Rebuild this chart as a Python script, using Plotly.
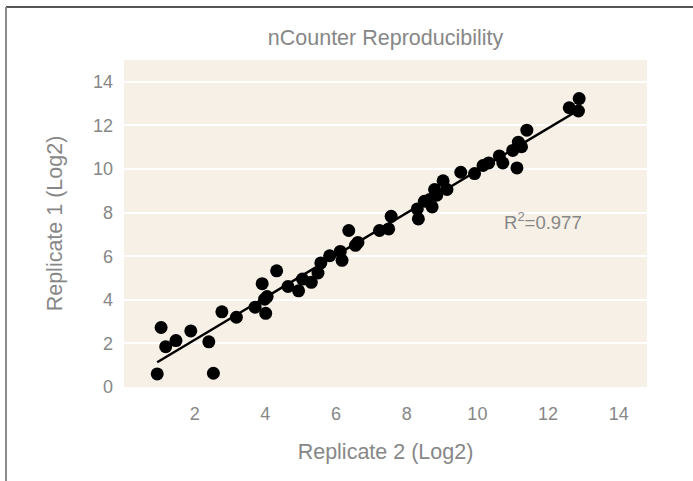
import numpy as np
import plotly.graph_objects as go

# Data
rep2 = [0.94, 1.05, 1.18, 1.47, 1.89, 2.40, 2.53, 2.77, 3.18, 3.71,
        4.01, 3.98, 4.05, 3.91, 4.32, 4.64, 4.94, 5.05, 5.30, 5.49,
        5.57, 5.82, 6.12, 6.17, 6.36, 6.55, 6.62, 7.23, 7.49, 7.56,
        8.33, 8.30, 8.50, 8.65, 8.72, 8.79, 8.85, 9.03, 9.14, 9.53,
        9.92, 10.16, 10.32, 10.62, 10.72, 11.12, 11.00, 11.16, 11.25, 11.40,
        12.60, 12.88, 12.86]
rep1 = [0.60, 2.73, 1.85, 2.13, 2.57, 2.07, 0.63, 3.45, 3.20, 3.66,
        3.38, 4.03, 4.15, 4.74, 5.33, 4.61, 4.41, 4.95, 4.80, 5.23,
        5.69, 6.02, 6.22, 5.81, 7.18, 6.50, 6.63, 7.18, 7.25, 7.83,
        7.71, 8.17, 8.52, 8.60, 8.26, 9.06, 8.80, 9.46, 9.06, 9.85,
        9.79, 10.16, 10.28, 10.60, 10.28, 10.05, 10.85, 11.23, 11.02, 11.78,
        12.81, 13.23, 12.66]
x_ticks = [2, 4, 6, 8, 10, 12, 14]
y_ticks = [0, 2, 4, 6, 8, 10, 12, 14]
r2_text = "R<sup>2</sup>=0.977"

title_text = "nCounter Reproducibility"
x_title = "Replicate 2 (Log2)"
y_title = "Replicate 1 (Log2)"

slope, intercept = np.polyfit(rep2, rep1, 1)
fit_x = [min(rep2), max(rep2)]
fit_y = [slope * v + intercept for v in fit_x]

FONT = "Liberation Sans, Arial, sans-serif"
GRAY = "#878787"

fig = go.Figure()
fig.add_trace(go.Scatter(x=rep2, y=rep1, mode="markers",
                         marker=dict(color="black", size=13),
                         showlegend=False, hoverinfo="skip"))
fig.add_trace(go.Scatter(x=fit_x, y=fit_y, mode="lines",
                         line=dict(color="black", width=2.5),
                         showlegend=False, hoverinfo="skip"))

fig.add_annotation(x=11.86, y=7.63, xref="x", yref="y", text=r2_text,
                   showarrow=False, font=dict(family=FONT, size=18.5, color=GRAY))

# outer frame (top and left edges); plot area is 523 x 327 px at (124, 60)
frame_left = (6 - 124) / 523
frame_top = (387 - 7) / 327
fig.add_shape(type="line", xref="paper", yref="paper",
              x0=frame_left, x1=1.2, y0=frame_top, y1=frame_top,
              line=dict(color="#555555", width=2))
fig.add_shape(type="line", xref="paper", yref="paper",
              x0=frame_left, x1=frame_left, y0=frame_top, y1=-0.4,
              line=dict(color="#8a8a8a", width=2))

fig.update_layout(
    width=693, height=481,
    margin=dict(l=124, r=46, t=60, b=94),
    paper_bgcolor="white",
    plot_bgcolor="#f7f0e6",
    title=dict(text=title_text, x=0.5, xref="paper", xanchor="center",
               y=1 - 37 / 481, yref="container", yanchor="middle",
               font=dict(family=FONT, size=21.5, color=GRAY)),
    xaxis=dict(range=[0, 14.8], tickvals=x_ticks, showgrid=False, zeroline=False,
               showline=False, ticks="", ticklabelstandoff=14,
               tickfont=dict(family=FONT, size=18, color=GRAY),
               title=dict(text=x_title, standoff=20,
                          font=dict(family=FONT, size=21.5, color=GRAY))),
    yaxis=dict(range=[0, 15], tickvals=y_ticks, showgrid=True, gridcolor="white",
               gridwidth=1.5, zeroline=False, showline=False, ticks="",
               ticklabelstandoff=10,
               tickfont=dict(family=FONT, size=18, color=GRAY),
               title=dict(text=y_title, standoff=24,
                          font=dict(family=FONT, size=21.5, color=GRAY))),
)

fig.write_html("out.html", config={"displayModeBar": False},
               post_script="document.body.style.margin='0px';")
